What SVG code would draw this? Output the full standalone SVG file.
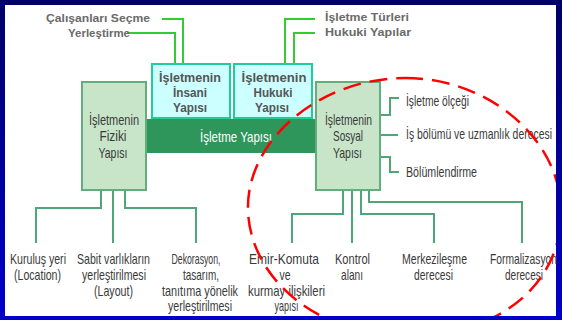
<svg xmlns="http://www.w3.org/2000/svg" width="562" height="320" viewBox="0 0 562 320">
<defs>
<linearGradient id="bg" x1="0" y1="0" x2="0" y2="1">
<stop offset="0" stop-color="#000066"/>
<stop offset="1" stop-color="#0000cc"/>
</linearGradient>
<clipPath id="inner"><rect x="5" y="5" width="551" height="311"/></clipPath>
<style>
.tb{font-family:"Liberation Sans",Arial,sans-serif;font-weight:bold;font-size:11px;fill:#6a6a6a}
.bx{font-family:"Liberation Sans",Arial,sans-serif;font-weight:bold;font-size:12.5px;fill:#555;text-anchor:middle}
.cd{font-family:"Liberation Sans",Arial,sans-serif;font-size:15px;fill:#3a3a3a}
.mid{text-anchor:middle}
.wt{font-family:"Liberation Sans",Arial,sans-serif;font-size:15px;fill:#ffffff;text-anchor:middle}
.gbox{fill:#c8e5c9;stroke:#62ad7c;stroke-width:2}
.cbox{fill:#ccffff;stroke:#22cc99;stroke-width:2}
.up{fill:none;stroke:#33cc33;stroke-width:2}
.lo{fill:none;stroke:#4fa678;stroke-width:2}
</style>
</defs>
<rect x="0" y="0" width="562" height="320" fill="url(#bg)"/>
<rect x="5" y="5" width="551" height="311" fill="#ffffff"/>

<g id="connectors">
<path class="up" d="M162 19H183V64M127 33H175V64"/>
<path class="up" d="M315 19H285V64M315 33H294V64"/>
<path class="lo" d="M101 190V208H36V243M113 190V243M125 190V208H196V243"/>
<path class="lo" d="M343 190V214H292V243M352 190V243M361 190V214H434V243M369 190V202H522V243"/>
<path class="lo" d="M380 115H390V98H399M380 135H398M380 157H390V172H399"/>
</g>

<g id="top-left-labels">
<text class="tb" x="46" y="22" textLength="104" lengthAdjust="spacingAndGlyphs">Çalışanları  Seçme</text>
<text class="tb" x="68" y="37" textLength="62" lengthAdjust="spacingAndGlyphs">Yerleştirme</text>
</g>
<g id="top-right-labels">
<text class="tb" x="325" y="21" textLength="84" lengthAdjust="spacingAndGlyphs">İşletme  Türleri</text>
<text class="tb" x="325" y="36" textLength="86" lengthAdjust="spacingAndGlyphs">Hukuki  Yapılar</text>
</g>

<g id="isletme-yapisi">
<rect x="146" y="119" width="170" height="34" fill="#2e965a"/>
<text class="wt" x="236" y="142" textLength="72" lengthAdjust="spacingAndGlyphs">İşletme Yapısı</text>
</g>

<g id="insani">
<rect class="cbox" x="152" y="64" width="78" height="54"/>
<text class="bx" x="190" y="82" textLength="62" lengthAdjust="spacingAndGlyphs">İşletmenin</text>
<text class="bx" x="190" y="97" textLength="34" lengthAdjust="spacingAndGlyphs">İnsani</text>
<text class="bx" x="190" y="112" textLength="34" lengthAdjust="spacingAndGlyphs">Yapısı</text>
</g>
<g id="hukuki">
<rect class="cbox" x="234" y="64" width="78" height="54"/>
<text class="bx" x="274" y="82" textLength="65" lengthAdjust="spacingAndGlyphs">İşletmenin</text>
<text class="bx" x="273" y="97" textLength="39" lengthAdjust="spacingAndGlyphs">Hukuki</text>
<text class="bx" x="272" y="112" textLength="34" lengthAdjust="spacingAndGlyphs">Yapısı</text>
</g>

<g id="fiziki">
<rect class="gbox" x="82" y="82" width="64" height="108"/>
<text class="cd mid" x="114" y="124.5" textLength="50" lengthAdjust="spacingAndGlyphs">İşletmenin</text>
<text class="cd mid" x="113" y="141" textLength="27" lengthAdjust="spacingAndGlyphs">Fiziki</text>
<text class="cd mid" x="113" y="157.5" textLength="29" lengthAdjust="spacingAndGlyphs">Yapısı</text>
</g>
<g id="sosyal">
<rect class="gbox" x="316" y="82" width="64" height="108"/>
<text class="cd mid" x="348.5" y="124.5" textLength="47" lengthAdjust="spacingAndGlyphs">İşletmenin</text>
<text class="cd mid" x="348" y="141" textLength="30" lengthAdjust="spacingAndGlyphs">Sosyal</text>
<text class="cd mid" x="347.5" y="157.5" textLength="29" lengthAdjust="spacingAndGlyphs">Yapısı</text>
</g>

<g id="sosyal-right">
<text class="cd" x="406" y="106" font-size="14" textLength="63" lengthAdjust="spacingAndGlyphs">İşletme ölçeği</text>
<text class="cd" x="406" y="139" font-size="14" textLength="146" lengthAdjust="spacingAndGlyphs">İş bölümü ve uzmanlık derecesi</text>
<text class="cd" x="406" y="176.5" font-size="14" textLength="71" lengthAdjust="spacingAndGlyphs">Bölümlendirme</text>
</g>

<g id="kurulus">
<text class="cd mid" x="38" y="264" textLength="56" lengthAdjust="spacingAndGlyphs">Kuruluş yeri</text>
<text class="cd mid" x="37.5" y="280" textLength="47" lengthAdjust="spacingAndGlyphs">(Location)</text>
</g>
<g id="sabit">
<text class="cd mid" x="113.5" y="264" textLength="73" lengthAdjust="spacingAndGlyphs">Sabit varlıkların</text>
<text class="cd mid" x="114" y="280" textLength="64" lengthAdjust="spacingAndGlyphs">yerleştirilmesi</text>
<text class="cd mid" x="113.5" y="295.5" textLength="39" lengthAdjust="spacingAndGlyphs">(Layout)</text>
</g>
<g id="dekorasyon">
<text class="cd mid" x="196" y="264" textLength="49" lengthAdjust="spacingAndGlyphs">Dekorasyon,</text>
<text class="cd mid" x="201" y="280" textLength="36" lengthAdjust="spacingAndGlyphs">tasarım,</text>
<text class="cd mid" x="200" y="295.5" textLength="76" lengthAdjust="spacingAndGlyphs">tanıtıma yönelik</text>
<text class="cd mid" x="200" y="311" textLength="64" lengthAdjust="spacingAndGlyphs">yerleştirilmesi</text>
</g>
<g id="emir">
<text class="cd mid" x="284" y="264" textLength="70" lengthAdjust="spacingAndGlyphs">Emir-Komuta</text>
<text class="cd mid" x="285" y="280" textLength="11" lengthAdjust="spacingAndGlyphs">ve</text>
<text class="cd mid" x="286.5" y="295.5" textLength="77" lengthAdjust="spacingAndGlyphs">kurmay ilişkileri</text>
<text class="cd mid" x="286.5" y="311" textLength="24" lengthAdjust="spacingAndGlyphs">yapısı</text>
</g>
<g id="kontrol">
<text class="cd mid" x="352.5" y="264" textLength="35" lengthAdjust="spacingAndGlyphs">Kontrol</text>
<text class="cd mid" x="352" y="280" textLength="22" lengthAdjust="spacingAndGlyphs">alanı</text>
</g>
<g id="merkezilesme">
<text class="cd mid" x="434.5" y="264" textLength="65" lengthAdjust="spacingAndGlyphs">Merkezileşme</text>
<text class="cd mid" x="433.5" y="280" textLength="39" lengthAdjust="spacingAndGlyphs">derecesi</text>
</g>
<g id="formalizasyon">
<text class="cd mid" x="523.5" y="264" textLength="67" lengthAdjust="spacingAndGlyphs">Formalizasyon</text>
<text class="cd mid" x="524" y="280" textLength="38" lengthAdjust="spacingAndGlyphs">derecesi</text>
</g>

<g id="highlight" clip-path="url(#inner)">
<path d="M405 78C490 78 560 140 561 210C563 275 510 336 405 336C320 336 250 280 248 210C246 140 320 78 405 78Z" fill="none" stroke="#ff0000" stroke-width="2.5" stroke-dasharray="18 9"/>
</g>
</svg>
